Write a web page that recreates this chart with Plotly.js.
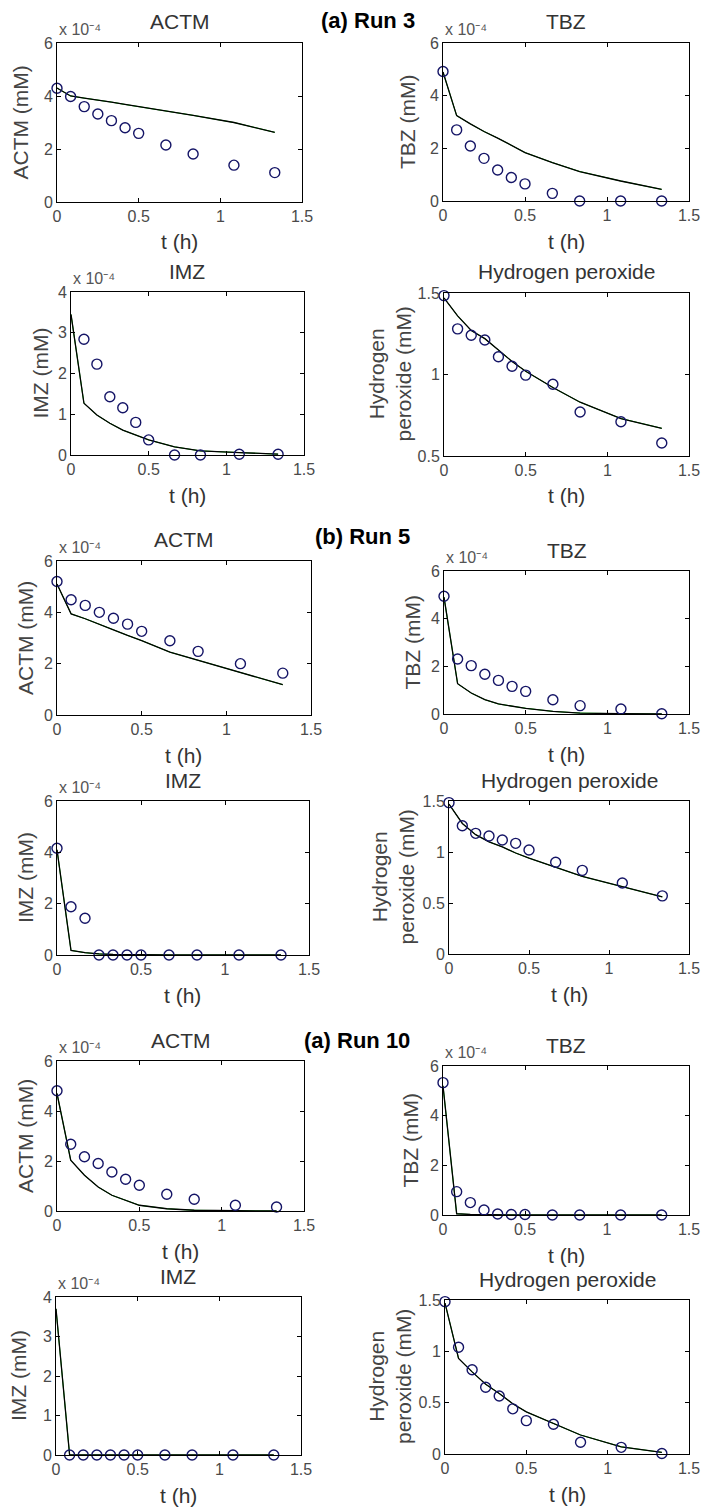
<!DOCTYPE html>
<html>
<head>
<meta charset="utf-8">
<script src="https://cdn.plot.ly/plotly-3.0.1.min.js"></script>
<style>html,body{margin:0;padding:0;background:#fff;}#chart{width:703px;height:1508px;}</style>
</head>
<body>
<div id="chart"></div>
<script>
// time points (h)
const t = [0, 0.0833, 0.1667, 0.25, 0.3333, 0.4167, 0.5, 0.6667, 0.8333, 1.0833, 1.3333];

// Run 3 (ACTM, TBZ, IMZ in units of 1e-4 mM; H2O2 in mM)
const run3_actm_obs = [4.29, 3.98, 3.60, 3.32, 3.07, 2.80, 2.59, 2.15, 1.81, 1.39, 1.11];
const run3_actm_mod = [4.30, 4.00, 3.92, 3.85, 3.77, 3.68, 3.60, 3.43, 3.27, 3.00, 2.63];
const run3_tbz_obs  = [4.92, 2.70, 2.09, 1.62, 1.18, 0.89, 0.65, 0.29, 0.00, 0.00, 0.00];
const run3_tbz_mod  = [4.90, 3.24, 2.93, 2.64, 2.39, 2.10, 1.84, 1.46, 1.12, 0.76, 0.44];
const run3_imz_obs  = [null, 2.84, 2.23, 1.43, 1.16, 0.80, 0.37, 0.00, 0.00, 0.02, 0.02];
const run3_imz_mod  = [3.45, 1.27, 0.98, 0.78, 0.61, 0.49, 0.37, 0.20, 0.10, 0.06, 0.02];
const run3_h2o2_obs = [1.484, 1.28, 1.241, 1.212, 1.109, 1.051, 0.996, 0.94, 0.77, 0.71, 0.58];
const run3_h2o2_mod = [1.47, 1.36, 1.27, 1.22, 1.15, 1.08, 1.02, 0.92, 0.83, 0.73, 0.67];

// Run 5
const run5_actm_obs = [5.20, 4.49, 4.27, 4.00, 3.77, 3.54, 3.26, 2.89, 2.48, 2.00, 1.63];
const run5_actm_mod = [5.10, 3.94, 3.75, 3.55, 3.32, 3.10, 2.90, 2.45, 2.13, 1.66, 1.18];
const run5_tbz_obs  = [4.94, 2.31, 2.03, 1.67, 1.41, 1.16, 0.95, 0.60, 0.35, 0.21, 0.01];
const run5_tbz_mod  = [4.90, 1.27, 0.88, 0.60, 0.42, 0.32, 0.24, 0.11, 0.04, 0.01, 0.00];
const run5_imz_obs  = [4.16, 1.88, 1.43, 0, 0, 0, 0, 0, 0, 0, 0];
const run5_imz_mod  = [4.10, 0.18, 0.09, 0.04, 0.02, 0.01, 0, 0, 0, 0, 0];
const run5_h2o2_obs = [1.484, 1.258, 1.183, 1.157, 1.118, 1.085, 1.02, 0.90, 0.82, 0.696, 0.57];
const run5_h2o2_mod = [1.47, 1.28, 1.17, 1.10, 1.05, 0.99, 0.94, 0.85, 0.76, 0.66, 0.56];

// Run 10
const run10_actm_obs = [4.81, 2.67, 2.17, 1.90, 1.56, 1.27, 1.03, 0.67, 0.47, 0.23, 0.16];
const run10_actm_mod = [4.70, 2.03, 1.43, 0.96, 0.63, 0.43, 0.23, 0.09, 0.03, 0.01, 0.00];
const run10_tbz_obs  = [5.33, 0.94, 0.50, 0.20, 0.04, 0.02, 0.02, 0, 0, 0, 0];
const run10_tbz_mod  = [5.20, 0.05, 0.02, 0.01, 0, 0, 0, 0, 0, 0, 0];
const run10_imz_obs  = [null, 0, 0, 0, 0, 0, 0, 0, 0, 0, 0];
const run10_imz_mod  = [3.70, 0, 0, 0, 0, 0, 0, 0, 0, 0, 0];
const run10_h2o2_obs = [1.484, 1.04, 0.82, 0.65, 0.565, 0.44, 0.325, 0.29, 0.115, 0.065, 0.005];
const run10_h2o2_mod = [1.47, 0.93, 0.80, 0.68, 0.59, 0.49, 0.41, 0.30, 0.185, 0.07, 0.015];

const xTicks = [0, 0.5, 1, 1.5];
const runLabels = ['(a) Run 3', '(b) Run 5', '(a) Run 10'];
const expLabel = 'x 10\u207B\u2074';

const W = 703, H = 1508;
const FONT = 'Liberation Sans, Arial, sans-serif';
const px = v => v / W;
const py = v => 1 - v / H;

const panels = [
  {x0:57, x1:302, y0:43, y1:202, title:'ACTM', ylab:'ACTM (mM)', yr:[0,6], yt:[0,2,4,6], obs:run3_actm_obs, mod:run3_actm_mod, exp:true, lx:20},
  {x0:443, x1:689, y0:43, y1:201, title:'TBZ', ylab:'TBZ (mM)', yr:[0,6], yt:[0,2,4,6], obs:run3_tbz_obs, mod:run3_tbz_mod, exp:true, lx:408},
  {x0:71, x1:304, y0:292, y1:455, title:'IMZ', ylab:'IMZ (mM)', yr:[0,4], yt:[0,1,2,3,4], obs:run3_imz_obs, mod:run3_imz_mod, exp:true, lx:40},
  {x0:444, x1:689, y0:293, y1:456, title:'Hydrogen peroxide', ylab:'Hydrogen<br>peroxide (mM)', yr:[0.5,1.5], yt:[0.5,1,1.5], obs:run3_h2o2_obs, mod:run3_h2o2_mod, exp:false, lx:389},
  {x0:57, x1:311, y0:561, y1:715, title:'ACTM', ylab:'ACTM (mM)', yr:[0,6], yt:[0,2,4,6], obs:run5_actm_obs, mod:run5_actm_mod, exp:true, lx:25},
  {x0:444, x1:689, y0:571, y1:714, title:'TBZ', ylab:'TBZ (mM)', yr:[0,6], yt:[0,2,4,6], obs:run5_tbz_obs, mod:run5_tbz_mod, exp:true, lx:412},
  {x0:57, x1:309, y0:801, y1:955, title:'IMZ', ylab:'IMZ (mM)', yr:[0,6], yt:[0,2,4,6], obs:run5_imz_obs, mod:run5_imz_mod, exp:true, lx:25},
  {x0:449, x1:689, y0:801, y1:954, title:'Hydrogen peroxide', ylab:'Hydrogen<br>peroxide (mM)', yr:[0,1.5], yt:[0,0.5,1,1.5], obs:run5_h2o2_obs, mod:run5_h2o2_mod, exp:false, lx:392},
  {x0:57, x1:304, y0:1061, y1:1211, title:'ACTM', ylab:'ACTM (mM)', yr:[0,6], yt:[0,2,4,6], obs:run10_actm_obs, mod:run10_actm_mod, exp:true, lx:25},
  {x0:443, x1:689, y0:1066, y1:1215, title:'TBZ', ylab:'TBZ (mM)', yr:[0,6], yt:[0,2,4,6], obs:run10_tbz_obs, mod:run10_tbz_mod, exp:true, lx:410},
  {x0:56, x1:301, y0:1297, y1:1455, title:'IMZ', ylab:'IMZ (mM)', yr:[0,4], yt:[0,1,2,3,4], obs:run10_imz_obs, mod:run10_imz_mod, exp:true, lx:18},
  {x0:445, x1:689, y0:1300, y1:1454, title:'Hydrogen peroxide', ylab:'Hydrogen<br>peroxide (mM)', yr:[0,1.5], yt:[0,0.5,1,1.5], obs:run10_h2o2_obs, mod:run10_h2o2_mod, exp:false, lx:390}
];

const traces = [];
const layout = {
  width: W, height: H,
  margin: {l:0, r:0, t:0, b:0},
  paper_bgcolor: '#fff', plot_bgcolor: '#fff',
  showlegend: false,
  font: {family: FONT, size: 16, color: '#444'},
  annotations: []
};

panels.forEach((p, i) => {
  const n = i + 1;
  const xa = n === 1 ? 'x' : 'x' + n;
  const ya = n === 1 ? 'y' : 'y' + n;
  const axCommon = {
    showline: true, linecolor: '#000', linewidth: 1, mirror: 'ticks',
    ticks: 'inside', ticklen: 4, tickcolor: '#000', tickwidth: 1,
    showgrid: false, zeroline: false, fixedrange: true,
    tickfont: {family: FONT, size: 16, color: '#4a4a4a'}
  };
  layout['xaxis' + (n === 1 ? '' : n)] = Object.assign({}, axCommon, {
    domain: [px(p.x0), px(p.x1)], anchor: ya, range: [0, 1.5],
    tickmode: 'array', tickvals: xTicks
  });
  layout['yaxis' + (n === 1 ? '' : n)] = Object.assign({}, axCommon, {
    domain: [py(p.y1), py(p.y0)], anchor: xa, range: p.yr,
    tickmode: 'array', tickvals: p.yt
  });
  // model curves: thin green under black
  traces.push({x: t, y: p.mod, xaxis: xa, yaxis: ya, mode: 'lines', type: 'scatter',
    line: {color: '#00c000', width: 1.0}, hoverinfo: 'skip', cliponaxis: false});
  traces.push({x: t, y: p.mod, xaxis: xa, yaxis: ya, mode: 'lines', type: 'scatter',
    line: {color: '#000', width: 1.3}, hoverinfo: 'skip', cliponaxis: false});
  // observations
  traces.push({x: t, y: p.obs, xaxis: xa, yaxis: ya, mode: 'markers', type: 'scatter',
    marker: {symbol: 'circle-open', size: 10, color: '#141466', line: {width: 1.4, color: '#141466'}},
    cliponaxis: false});

  const cx = (p.x0 + p.x1) / 2;
  const cy = (p.y0 + p.y1) / 2;
  // panel title
  layout.annotations.push({xref:'paper', yref:'paper', x: px(cx), y: py(p.y0 - 21),
    text: p.title, showarrow: false, xanchor: 'center', yanchor: 'middle',
    font: {family: FONT, size: 21, color: '#333'}});
  // x-axis title
  layout.annotations.push({xref:'paper', yref:'paper', x: px(cx), y: py(p.y1 + 40),
    text: 't (h)', showarrow: false, xanchor: 'center', yanchor: 'middle',
    font: {family: FONT, size: 21, color: '#333'}});
  // y-axis title
  layout.annotations.push({xref:'paper', yref:'paper', x: px(p.lx), y: py(cy),
    text: p.ylab, showarrow: false, xanchor: 'center', yanchor: 'middle', textangle: -90,
    font: {family: FONT, size: 21, color: '#444'}});
  // exponent label
  if (p.exp) {
    layout.annotations.push({xref:'paper', yref:'paper', x: px(p.x0), y: py(p.y0 - 3),
      text: expLabel, showarrow: false, xanchor: 'left', yanchor: 'bottom',
      font: {family: FONT, size: 16, color: '#555'}});
  }
});

// run labels
const runPos = [[368, 20], [362, 537], [357, 1040]];
runLabels.forEach((s, i) => {
  layout.annotations.push({xref:'paper', yref:'paper', x: px(runPos[i][0]), y: py(runPos[i][1]),
    text: '<b>' + s + '</b>', showarrow: false, xanchor: 'center', yanchor: 'middle',
    font: {family: FONT, size: 22, color: '#000'}});
});

Plotly.newPlot('chart', traces, layout, {staticPlot: true, displayModeBar: false});
</script>
</body>
</html>
